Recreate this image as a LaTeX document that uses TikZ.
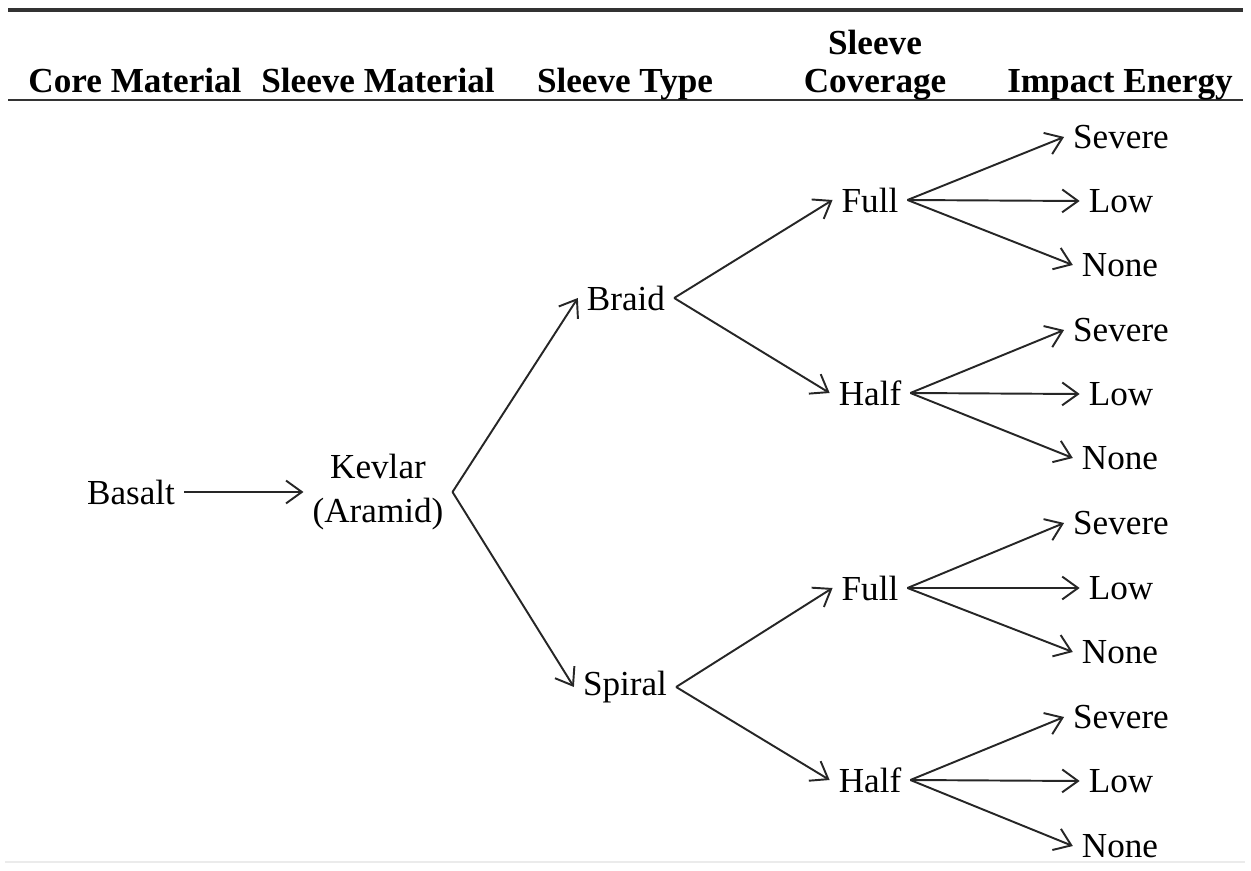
\documentclass[tikz,border=0pt]{standalone}
\usepackage{fontspec}
\setmainfont{Liberation Serif}
\usetikzlibrary{arrows.meta}

\begin{document}
\begin{tikzpicture}[x=0.02cm, y=-0.02cm,
        font=\fontsize{20}{23}\selectfont,
        item/.style={inner xsep=5pt, inner ysep=2pt, align=center},
        head/.style={font=\fontsize{20}{22}\selectfont\bfseries, anchor=base, align=center},
        arr/.style={-{Straight Barb[length=9pt,width=13pt]}, line width=1.1pt, draw=black!85}]
    \useasboundingbox (0,0) rectangle (1251,871);

    % table rules
    \draw[line width=2pt, black!80] (8,10) -- (1243,10);
    \draw[line width=1.3pt, black!80] (8,100) -- (1243,100);
    \draw[line width=1pt, black!8] (5,862) -- (1245,862);

    % column heads
    \node (hcore) [head] at (135,93) {Core Material};
    \node (hsleeve) [head] at (378,93) {Sleeve Material};
    \node (htype) [head] at (625,93) {Sleeve Type};
    \node (hcover) [head] at (875,93) {Sleeve\\Coverage};
    \node (himpact) [head] at (1120,93) {Impact Energy};

    \node (basalt) [item] at (131,492) {Basalt};
    \node (kevlar) [item] at (378,492) {Kevlar\\[2pt](Aramid)};
    \node (braid) [item] at (626,298) {Braid};
    \node (spiral) [item] at (625,687) {Spiral};
    \node (full1) [item] at (870,200) {Full};
    \node (half1) [item] at (870,393) {Half};
    \node (full2) [item] at (870,588) {Full};
    \node (half2) [item] at (870,780) {Half};

    \node (severe1) [item] at (1121,137) {Severe};
    \node (low1) [item] at (1121,201) {Low};
    \node (none1) [item] at (1120,265) {None};
    \node (severe2) [item] at (1121,330) {Severe};
    \node (low2) [item] at (1121,394) {Low};
    \node (none2) [item] at (1120,458) {None};
    \node (severe3) [item] at (1121,523) {Severe};
    \node (low3) [item] at (1121,588) {Low};
    \node (none3) [item] at (1120,652) {None};
    \node (severe4) [item] at (1121,717) {Severe};
    \node (low4) [item] at (1121,781) {Low};
    \node (none4) [item] at (1120,846) {None};

    \draw[arr] (basalt.east) -- (kevlar.west);
    \draw[arr] (kevlar.east) -- (braid.west);
    \draw[arr] (kevlar.east) -- (spiral.west);
    \draw[arr] (braid.east) -- (full1.west);
    \draw[arr] (braid.east) -- (half1.west);
    \draw[arr] (spiral.east) -- (full2.west);
    \draw[arr] (spiral.east) -- (half2.west);

    \draw[arr] (full1.east) -- (severe1.west);
    \draw[arr] (full1.east) -- (low1.west);
    \draw[arr] (full1.east) -- (none1.west);
    \draw[arr] (half1.east) -- (severe2.west);
    \draw[arr] (half1.east) -- (low2.west);
    \draw[arr] (half1.east) -- (none2.west);
    \draw[arr] (full2.east) -- (severe3.west);
    \draw[arr] (full2.east) -- (low3.west);
    \draw[arr] (full2.east) -- (none3.west);
    \draw[arr] (half2.east) -- (severe4.west);
    \draw[arr] (half2.east) -- (low4.west);
    \draw[arr] (half2.east) -- (none4.west);
\end{tikzpicture}
\end{document}
